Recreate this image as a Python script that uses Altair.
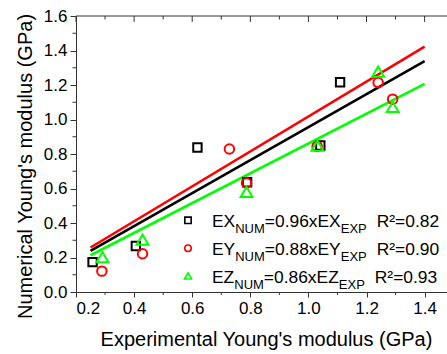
import altair as alt
import pandas as pd

# ---------------- data ----------------
series = ["EX", "EY", "EZ"]
colors = ["#000000", "#ff0000", "#00ff00"]
shapes = ["square", "circle", "triangle-up"]

ex_x = [0.257, 0.406, 0.618, 0.789, 1.041, 1.109]
ex_y = [0.173, 0.267, 0.838, 0.636, 0.849, 1.216]
ey_x = [0.289, 0.429, 0.728, 0.787, 1.030, 1.240, 1.290]
ey_y = [0.121, 0.222, 0.829, 0.632, 0.844, 1.214, 1.118]
ez_x = [0.291, 0.429, 0.787, 1.031, 1.240, 1.290]
ez_y = [0.202, 0.304, 0.580, 0.848, 1.277, 1.073]

fit_x = [0.25, 1.40]
fit_ex = [0.239, 1.339]
fit_ey = [0.258, 1.422]
fit_ez = [0.213, 1.206]

slopes = ["0.96", "0.88", "0.86"]
r2_vals = ["0.82", "0.90", "0.93"]

x_major = [0.2, 0.4, 0.6, 0.8, 1.0, 1.2, 1.4]
x_minor = [0.3, 0.5, 0.7, 0.9, 1.1, 1.3]
y_major = [0.0, 0.2, 0.4, 0.6, 0.8, 1.0, 1.2, 1.4, 1.6]
y_minor = [0.1, 0.3, 0.5, 0.7, 0.9, 1.1, 1.3, 1.5]

x_title = "Experimental Young's modulus (GPa)"
y_title = "Numerical Young's modulus (GPa)"

# ---------------- layout ----------------
W, H = 371, 276
FONT = "Liberation Sans"
AX = "#333333"

xs = alt.Scale(domain=[0.2, 1.477], nice=False, zero=False)
ys = alt.Scale(domain=[0.0, 1.6], nice=False, zero=False)

xa = alt.Axis(values=x_major, format=".1f", title=x_title, tickSize=5,
              labelPadding=3, titleX=190, titleY=53, titleBaseline="alphabetic")
ya = alt.Axis(values=y_major, format=".1f", title=y_title, tickSize=6,
              labelPadding=3, titleX=-44.5, titleY=150, titleAngle=270,
              titleBaseline="alphabetic", titleAlign="center")


def X(f):
    return alt.X(f, scale=xs, axis=xa)


def Y(f):
    return alt.Y(f, scale=ys, axis=ya)


layers = []

# fit lines
fits = [fit_ex, fit_ey, fit_ez]
for s, c, fy in zip(series, colors, fits):
    df = pd.DataFrame({"x": fit_x, "y": fy})
    layers.append(
        alt.Chart(df).mark_line(color=c, strokeWidth=2.6).encode(x=X("x:Q"), y=Y("y:Q"))
    )

# scatter points
pts = [(ex_x, ex_y), (ey_x, ey_y), (ez_x, ez_y)]
sizes = [70, 90, 140]
for s, c, sh, sz, (px, py) in zip(series, colors, shapes, sizes, pts):
    df = pd.DataFrame({"x": px, "y": py})
    layers.append(
        alt.Chart(df).mark_point(shape=sh, size=sz, color=c, filled=False,
                                 strokeWidth=2, opacity=1).encode(x=X("x:Q"), y=Y("y:Q"))
    )

# minor ticks on bottom and left, ticks on top (inward)
layers.append(
    alt.Chart(pd.DataFrame({"x": x_minor})).mark_rule(color=AX, strokeWidth=1).encode(
        x=X("x:Q"), y=alt.value(H), y2=alt.value(H + 3))
)
layers.append(
    alt.Chart(pd.DataFrame({"y": y_minor})).mark_rule(color=AX, strokeWidth=1).encode(
        y=Y("y:Q"), x=alt.value(0), x2=alt.value(-3.5))
)
layers.append(
    alt.Chart(pd.DataFrame({"x": x_major})).mark_rule(color=AX, strokeWidth=1).encode(
        x=X("x:Q"), y=alt.value(0), y2=alt.value(6))
)
layers.append(
    alt.Chart(pd.DataFrame({"x": x_minor})).mark_rule(color=AX, strokeWidth=1).encode(
        x=X("x:Q"), y=alt.value(0), y2=alt.value(3.5))
)
layers.append(
    alt.Chart(pd.DataFrame({"v": [0]})).mark_rule(color=AX, strokeWidth=1).encode(
        x=alt.value(0), x2=alt.value(W), y=alt.value(0))
)

# ---------------- legend ----------------
AW = {"E": .667, "X": .667, "Y": .667, "Z": .611, "N": .722, "U": .722, "M": .833,
      "P": .667, "=": .584, ".": .278, "x": .5, "R": .722, "²": .333}


def tw(t, fs):
    return sum(AW.get(ch, .556) for ch in t) * fs


FS, SFS = 17.4, 13
x0 = 136
sym_x = 112
row_base = [210.7, 238.7, 266.7]
sym_y = [204.3, 232.3, 260.0]
leg_sizes = [40, 42, 50]
one = pd.DataFrame({"a": [0]})
for i, s in enumerate(series):
    layers.append(
        alt.Chart(one).mark_point(shape=shapes[i], size=leg_sizes[i], color=colors[i],
                                  filled=False, strokeWidth=1.6, opacity=1).encode(
            x=alt.value(sym_x), y=alt.value(sym_y[i]))
    )
    b = row_base[i]
    pieces = [
        (s, FS, 0),
        ("NUM", SFS, 6),
        ("=" + slopes[i] + "x" + s, FS, 0),
        ("EXP", SFS, 6),
    ]
    cx = x0
    for t, fs, dy in pieces:
        layers.append(
            alt.Chart(one).mark_text(text=t, fontSize=fs, font=FONT, align="left",
                                     baseline="alphabetic", color="#000").encode(
                x=alt.value(cx), y=alt.value(b + dy))
        )
        cx += tw(t, fs)
    layers.append(
        alt.Chart(one).mark_text(text="R²=" + r2_vals[i], fontSize=FS, font=FONT,
                                 align="left", baseline="alphabetic", color="#000").encode(
            x=alt.value(cx + 10), y=alt.value(b))
    )

chart = alt.layer(*layers).properties(
    width=W, height=H,
    background="white",
    autosize=alt.AutoSizeParams(type="none"),
    padding={"left": 76, "top": 16, "right": 0, "bottom": 62},
).configure_view(stroke=None).configure_axis(
    grid=False,
    labelFont=FONT, labelFontSize=17, labelColor="#000",
    titleFont=FONT, titleFontSize=20, titleFontWeight="normal", titleColor="#000",
    domainColor=AX, tickColor=AX, domainWidth=1, tickWidth=1,
)

chart.save("out.html", embed_options={"renderer": "svg", "actions": False})
